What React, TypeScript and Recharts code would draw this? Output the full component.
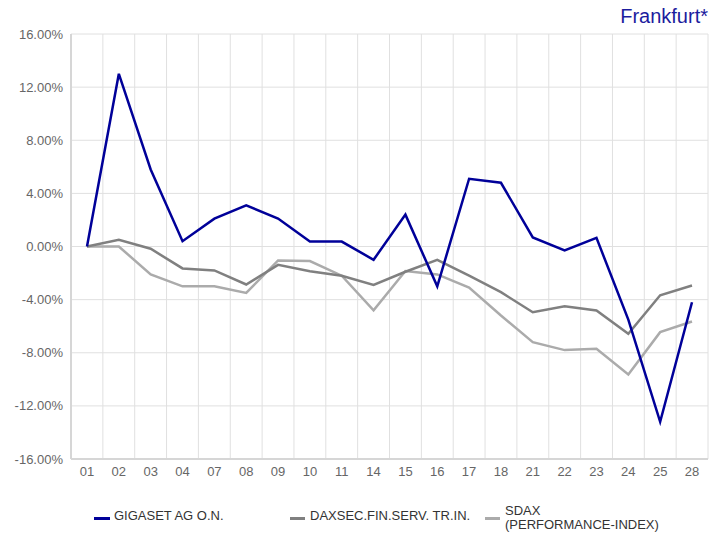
import React from "react";
import { LineChart, Line, XAxis, YAxis, CartesianGrid } from "recharts";

const categories = ["01","02","03","04","07","08","09","10","11","14","15","16","17","18","21","22","23","24","25","28"];
const gigaset = [0, 13.0, 5.8, 0.4, 2.1, 3.1, 2.1, 0.37, 0.37, -1.0, 2.4, -3.0, 5.1, 4.8, 0.68, -0.3, 0.65, -5.5, -13.2, -4.2];
const daxsec = [0, 0.5, -0.17, -1.65, -1.8, -2.86, -1.38, -1.86, -2.2, -2.9, -1.9, -1.0, -2.2, -3.44, -4.95, -4.5, -4.82, -6.57, -3.67, -2.94];
const sdax = [0, 0.0, -2.1, -3.0, -3.0, -3.5, -1.05, -1.1, -2.2, -4.8, -1.85, -2.1, -3.1, -5.2, -7.2, -7.8, -7.7, -9.64, -6.45, -5.65];
const yTicks = [-16, -12, -8, -4, 0, 4, 8, 12, 16];
const seriesNames = ["GIGASET AG O.N.", "DAXSEC.FIN.SERV. TR.IN."];
const sdaxLines = ["SDAX", "(PERFORMANCE-INDEX)"];
const title = "Frankfurt*";

const data = categories.map((c, i) => ({ cat: c, g: gigaset[i], d: daxsec[i], s: sdax[i] }));

const FONT = "'Liberation Sans', Arial, sans-serif";
const BLUE = "#000099";
const DGRAY = "#808080";
const LGRAY = "#ababab";

export default function App() {
  return (
    <div style={{ position: "absolute", left: 0, top: 0, width: 723, height: 535, background: "#fff", fontFamily: FONT }}>
      <LineChart
        width={723}
        height={535}
        data={data}
        margin={{ top: 34, right: 15, bottom: 46, left: 0 }}
      >
        <CartesianGrid
          stroke="#e0e0e0"
          strokeWidth={1}
          verticalCoordinatesGenerator={({ offset }: any) => {
            const n = categories.length;
            const arr: number[] = [];
            for (let i = 0; i <= n; i++) arr.push(offset.left + (i * offset.width) / n);
            return arr;
          }}
        />
        <XAxis
          dataKey="cat"
          height={30}
          padding={{ left: 16, right: 16 }}
          tickLine={false}
          axisLine={{ stroke: "#d6d6d6", strokeWidth: 2 }}
          tick={{ fill: "#666", fontSize: 13, fontFamily: FONT }}
          interval={0}
        />
        <YAxis
          width={71}
          domain={[-16, 16]}
          ticks={yTicks}
          tickLine={false}
          axisLine={{ stroke: "#d6d6d6", strokeWidth: 2 }}
          tick={{ fill: "#666", fontSize: 13, fontFamily: FONT }}
          tickFormatter={(v: number) => `${v.toFixed(2)}%`}
        />
        <Line type="linear" dataKey="s" stroke={LGRAY} strokeWidth={2.5} dot={false} isAnimationActive={false} />
        <Line type="linear" dataKey="d" stroke={DGRAY} strokeWidth={2.5} dot={false} isAnimationActive={false} />
        <Line type="linear" dataKey="g" stroke={BLUE} strokeWidth={2.5} dot={false} isAnimationActive={false} />
      </LineChart>
      <div style={{ position: "absolute", right: 15, top: 5, fontSize: 20, color: "#1c1c9e", fontFamily: FONT }}>{title}</div>
      <div style={{ position: "absolute", left: 94, top: 517, width: 16, height: 3, background: BLUE }} />
      <div style={{ position: "absolute", left: 114, top: 509, fontSize: 13, color: "#333", lineHeight: "14px" }}>{seriesNames[0]}</div>
      <div style={{ position: "absolute", left: 290, top: 517, width: 15, height: 3, background: DGRAY }} />
      <div style={{ position: "absolute", left: 310, top: 509, fontSize: 13, color: "#333", lineHeight: "14px" }}>{seriesNames[1]}</div>
      <div style={{ position: "absolute", left: 485, top: 517, width: 15, height: 3, background: LGRAY }} />
      <div style={{ position: "absolute", left: 505, top: 504, fontSize: 13, color: "#333", lineHeight: "13px" }}>{sdaxLines[0]}</div>
      <div style={{ position: "absolute", left: 505, top: 518, fontSize: 13, color: "#333", lineHeight: "13px" }}>{sdaxLines[1]}</div>
    </div>
  );
}
